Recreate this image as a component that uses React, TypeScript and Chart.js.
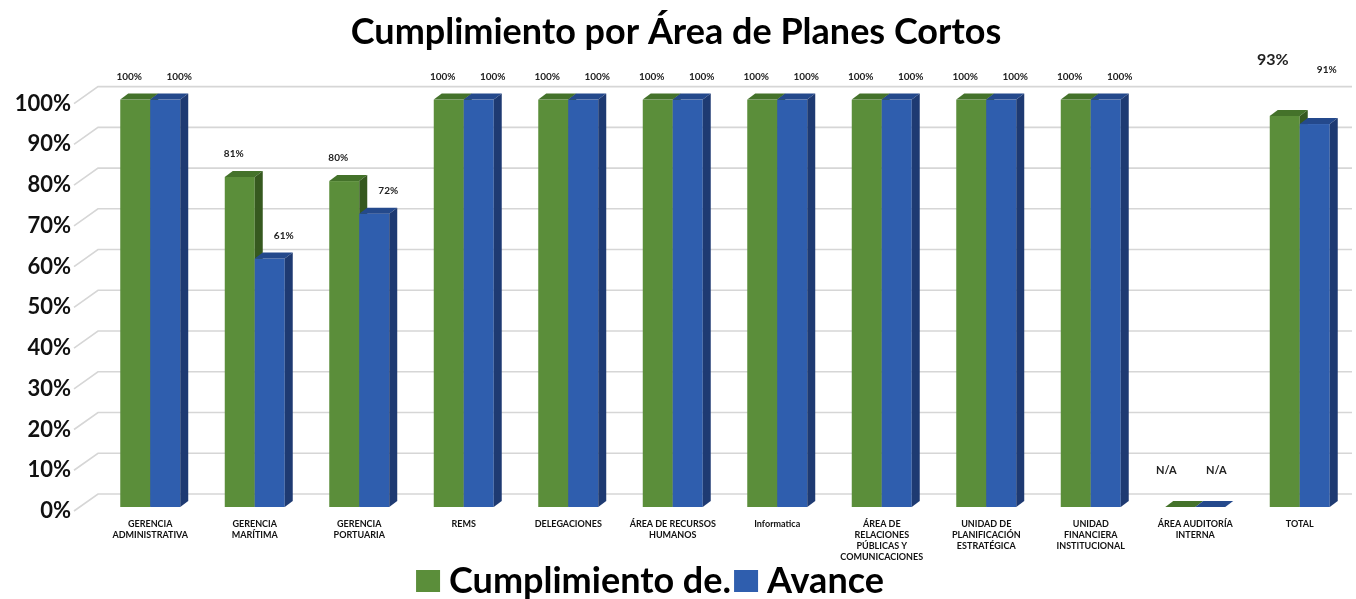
import React, { useEffect, useRef } from "react";
import { Chart, registerables } from "chart.js";

Chart.register(...registerables);

const categories: (string | string[])[] = [
  ["GERENCIA", "ADMINISTRATIVA"],
  ["GERENCIA", "MARÍTIMA"],
  ["GERENCIA", "PORTUARIA"],
  "REMS",
  "DELEGACIONES",
  ["ÁREA DE RECURSOS", "HUMANOS"],
  "Informatica",
  ["ÁREA DE", "RELACIONES", "PÚBLICAS Y", "COMUNICACIONES"],
  ["UNIDAD DE", "PLANIFICACIÓN", "ESTRATÉGICA"],
  ["UNIDAD", "FINANCIERA", "INSTITUCIONAL"],
  ["ÁREA AUDITORÍA", "INTERNA"],
  "TOTAL",
];

// bar heights as drawn in the source picture
const cumplimiento = [100, 81, 80, 100, 100, 100, 100, 100, 100, 100, 0, 96];
const avance = [100, 61, 72, 100, 100, 100, 100, 100, 100, 100, 0, 94];

// data-label texts as printed in the source picture
const cumplimientoLabels = ["100%", "81%", "80%", "100%", "100%", "100%", "100%", "100%", "100%", "100%", "N/A", "93%"];
const avanceLabels = ["100%", "61%", "72%", "100%", "100%", "100%", "100%", "100%", "100%", "100%", "N/A", "91%"];

const yTicks = [0, 10, 20, 30, 40, 50, 60, 70, 80, 90, 100];

const FONT = "Lato, 'Open Sans', sans-serif";

const COLORS = [
  { front: "#5B8E3A", top: "#44722A", side: "#36591F" },
  { front: "#2F5EAE", top: "#24498C", side: "#1E3A72" },
];
const DX = 8;
const DY = 6;

const threeDPlugin = {
  id: "threeD",
  beforeDatasetsDraw(chart: any) {
    const ctx = chart.ctx;
    const area = chart.chartArea;
    const yScale = chart.scales.y;
    ctx.save();
    ctx.strokeStyle = "#d6d6d6";
    ctx.lineWidth = 1.6;
    for (const v of yTicks) {
      const y = yScale.getPixelForValue(v);
      ctx.beginPath();
      ctx.moveTo(area.left - 24, y + 4);
      ctx.lineTo(area.left, y - 13);
      ctx.lineTo(area.right, y - 13);
      ctx.stroke();
    }
    const metas = [chart.getDatasetMeta(0), chart.getDatasetMeta(1)];
    const n = metas[0].data.length;
    for (let i = 0; i < n; i++) {
      for (let d = 0; d < 2; d++) {
        const el: any = metas[d].data[i];
        const c = COLORS[d];
        const l = el.x - el.width / 2;
        const r = el.x + el.width / 2;
        const t = Math.min(el.y, el.base);
        const b = Math.max(el.y, el.base);
        ctx.fillStyle = c.front;
        ctx.fillRect(l, t, r - l, b - t);
        ctx.fillStyle = c.top;
        ctx.beginPath();
        ctx.moveTo(l, t);
        ctx.lineTo(l + DX, t - DY);
        ctx.lineTo(r + DX, t - DY);
        ctx.lineTo(r, t);
        ctx.closePath();
        ctx.fill();
        ctx.fillStyle = c.side;
        ctx.beginPath();
        ctx.moveTo(r, t);
        ctx.lineTo(r + DX, t - DY);
        ctx.lineTo(r + DX, b - DY);
        ctx.lineTo(r, b);
        ctx.closePath();
        ctx.fill();
      }
    }
    ctx.restore();
    return false;
  },
  afterDraw(chart: any) {
    const ctx = chart.ctx;
    const metas = [chart.getDatasetMeta(0), chart.getDatasetMeta(1)];
    const texts = [cumplimientoLabels, avanceLabels];
    const n = metas[0].data.length;
    ctx.save();
    ctx.fillStyle = "#222";
    ctx.textAlign = "center";
    ctx.textBaseline = "middle";
    for (let i = 0; i < n; i++) {
      for (let d = 0; d < 2; d++) {
        const el: any = metas[d].data[i];
        const txt = texts[d][i];
        const isTotal = i === n - 1;
        const isNA = txt === "N/A";
        let x = el.x + (d === 0 ? -6 : 14);
        let y = el.y - 23;
        let size = 10;
        if (isNA) {
          y = el.y - 37;
          x = el.x + (d === 0 ? -14 : 6);
          size = 11;
        }
        if (isTotal) {
          y = d === 0 ? el.y - 56 : el.y - 54;
          x = el.x + (d === 0 ? -12 : 12);
          size = d === 0 ? 16 : 10;
        }
        ctx.font = `bold ${size}px ${FONT}`;
        ctx.fillText(txt, x, y);
      }
    }

    // legend drawn from the datasets (overlapping the axis labels as in the source)
    const ds = chart.data.datasets;
    ctx.font = `bold 36px ${FONT}`;
    ctx.textAlign = "left";
    ctx.textBaseline = "middle";
    const box = 24;
    const gapText = 9;
    const gapItem = 3;
    const widths = ds.map((d: any) => ctx.measureText(d.label).width);
    const total = widths.reduce((a: number, w: number) => a + box + gapText + w, 0) + gapItem * (ds.length - 1);
    let x = 650 - total / 2;
    const cy = 581;
    ds.forEach((d: any, k: number) => {
      ctx.fillStyle = d.backgroundColor;
      ctx.fillRect(x, cy - 11, box, 22);
      x += box + gapText;
      ctx.fillStyle = "#000";
      ctx.fillText(d.label, x, cy);
      x += widths[k] + gapItem;
    });
    ctx.restore();
  },
};

export default function App() {
  const canvasRef = useRef<HTMLCanvasElement | null>(null);

  useEffect(() => {
    document.body.style.margin = "0";
    const canvas = canvasRef.current;
    if (!canvas) return;
    const chart = new Chart(canvas, {
      type: "bar",
      data: {
        labels: categories,
        datasets: [
          {
            label: "Cumplimiento de.",
            data: cumplimiento,
            backgroundColor: COLORS[0].front,
            categoryPercentage: 0.574,
            barPercentage: 1,
          },
          {
            label: "Avance",
            data: avance,
            backgroundColor: COLORS[1].front,
            categoryPercentage: 0.574,
            barPercentage: 1,
          },
        ],
      },
      options: {
        responsive: false,
        animation: false,
        layout: { padding: { left: 0, right: 4, top: 0, bottom: 0 } },
        plugins: {
          title: {
            display: true,
            text: "Cumplimiento por Área de Planes Cortos",
            color: "#000",
            font: { family: FONT, size: 36, weight: "bold" },
            padding: { top: 11, bottom: 45.4 },
          },
          legend: { display: false },
          tooltip: { enabled: false },
        },
        scales: {
          x: {
            grid: { display: false, drawTicks: false },
            border: { display: false },
            afterFit(scale: any) {
              scale.height = 92;
            },
            ticks: {
              color: "#111",
              font: { family: FONT, size: 9, weight: "bold", lineHeight: 1.2 },
              maxRotation: 0,
              minRotation: 0,
              autoSkip: false,
              padding: 12,
            },
          },
          y: {
            min: 0,
            max: 100,
            grid: { display: false, drawTicks: false },
            border: { display: false },
            afterFit(scale: any) {
              scale.width = 98;
            },
            ticks: {
              stepSize: 10,
              color: "#111",
              font: { family: FONT, size: 22, weight: "bold" },
              padding: 27,
              labelOffset: 4,
              callback: (v: any) => `${v}%`,
            },
          },
        },
      },
      plugins: [threeDPlugin],
    });
    return () => chart.destroy();
  }, []);

  return (
    <div style={{ width: 1356, height: 599, background: "#fff" }}>
      <canvas ref={canvasRef} width={1356} height={599} />
    </div>
  );
}
